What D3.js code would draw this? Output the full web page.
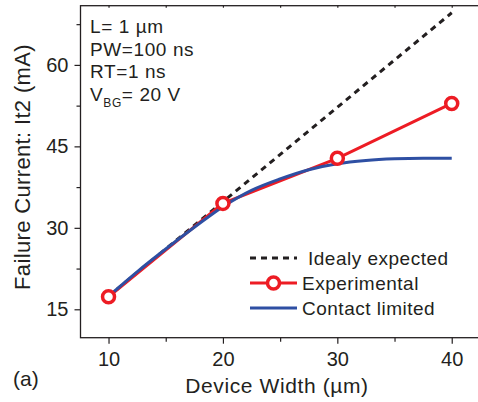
<!DOCTYPE html>
<html>
<head>
<meta charset="utf-8">
<script src="https://cdn.jsdelivr.net/npm/d3@7"></script>
<style>
  body { margin: 0; background: #fff; }
  text { font-family: "Liberation Sans", Arial, sans-serif; fill: #231f20; }
</style>
</head>
<body>
<div class="chart"></div>
<script>
// data
const widths = [10, 20, 30, 40];
const experimental = [17.3, 34.5, 42.8, 52.9];
const ideal = [17.4, 34.8, 52.2, 69.6];
const contactX = [10, 12.5, 15, 17.5, 20, 22.5, 25, 27.5, 30, 32.5, 35, 37.5, 40];
const contactY = [17.4, 21.9, 26.1, 30.1, 33.9, 36.9, 39.0, 40.7, 41.8, 42.4, 42.7, 42.8, 42.8];
const xTicks = [10, 20, 30, 40];
const yTicks = [15, 30, 45, 60];
const notes = ["L= 1 \u00b5m", "PW=100 ns", "RT=1 ns"];

const W = 478, H = 402;
const plotLeft = 80.5, plotBottom = 337.7, plotTop = 5.7;

const svg = d3.select(".chart").append("svg")
    .attr("width", W)
    .attr("height", H);

const x = d3.scaleLinear().domain([7.55, 42.5]).range([plotLeft, plotLeft + 34.95 * 11.44]);
const y = d3.scaleLinear().domain([9.77, 70.9]).range([plotBottom, plotTop]);

const red = "#ed1c24", blue = "#2e4fa3", black = "#231f20";

// frame
svg.append("rect")
    .attr("x", plotLeft).attr("y", plotTop)
    .attr("width", x.range()[1] - plotLeft).attr("height", plotBottom - plotTop)
    .attr("fill", "none").attr("stroke", black).attr("stroke-width", 1.3);

// bottom axis (major + minor)
svg.append("g").attr("transform", "translate(0," + plotBottom + ")")
    .call(d3.axisBottom(x).tickValues(xTicks).tickSize(6).tickSizeOuter(0).tickPadding(8).tickFormat(d3.format("d")));
svg.append("g").attr("transform", "translate(0," + plotBottom + ")")
    .call(d3.axisBottom(x).tickValues([15, 25, 35]).tickSize(4).tickFormat(""));

// left axis
svg.append("g").attr("transform", "translate(" + plotLeft + ",0)")
    .call(d3.axisLeft(y).tickValues(yTicks).tickSize(6).tickSizeOuter(0).tickPadding(6).tickFormat(d3.format("d")));
svg.append("g").attr("transform", "translate(" + plotLeft + ",0)")
    .call(d3.axisLeft(y).tickValues([22.5, 37.5, 52.5, 67.5]).tickSize(4).tickFormat(""));

// top axis small ticks
svg.append("g").attr("transform", "translate(0," + plotTop + ")")
    .call(d3.axisTop(x).tickValues([10, 15, 20, 25, 30, 35, 40]).tickSize(-2).tickFormat(""));

svg.selectAll(".domain").remove();
svg.selectAll(".tick line").attr("stroke", black).attr("stroke-width", 1.2);
svg.selectAll(".tick text").attr("font-size", 20).attr("fill", black)
    .style("font-family", "Liberation Sans, Arial, sans-serif");

// lines
const line = d3.line().x(d => x(d[0])).y(d => y(d[1]));

svg.append("path")
    .attr("d", line(widths.map((w, i) => [w, ideal[i]])))
    .attr("fill", "none").attr("stroke", black)
    .attr("stroke-width", 3).attr("stroke-dasharray", "6,5");

svg.append("path")
    .attr("d", line(widths.map((w, i) => [w, experimental[i]])))
    .attr("fill", "none").attr("stroke", red).attr("stroke-width", 3);

svg.append("path")
    .attr("d", d3.line().curve(d3.curveMonotoneX).x(d => x(d[0])).y(d => y(d[1]))(contactX.map((c, i) => [c, contactY[i]])))
    .attr("fill", "none").attr("stroke", blue).attr("stroke-width", 3);

svg.append("g").selectAll("circle")
    .data(widths.map((w, i) => [w, experimental[i]]))
    .join("circle")
    .attr("cx", d => x(d[0])).attr("cy", d => y(d[1]))
    .attr("r", 6).attr("fill", "#fff")
    .attr("stroke", red).attr("stroke-width", 3.5);

// annotations
svg.append("g").selectAll("text")
    .data(notes)
    .join("text")
    .attr("x", 90).attr("y", (d, i) => 33 + i * 22.5)
    .attr("font-size", 19).attr("letter-spacing", 0.6)
    .text(d => d);
const vbg = svg.append("text").attr("x", 90).attr("y", 100.5)
    .attr("font-size", 19).attr("letter-spacing", 0.6);
vbg.append("tspan").text("V");
vbg.append("tspan").attr("font-size", 12).attr("dy", 6).text("BG");
vbg.append("tspan").attr("dy", -6).text("= 20 V");

// legend
const legend = svg.append("g");
const rows = [
    {label: "Idealy expected", color: black, dash: "6,5", marker: false, tx: 308},
    {label: "Experimental", color: red, dash: null, marker: true, tx: 302},
    {label: "Contact limited", color: blue, dash: null, marker: false, tx: 302}
];
rows.forEach((r, i) => {
    const ly = 258 + i * 25;
    legend.append("line")
        .attr("x1", 250).attr("x2", 297).attr("y1", ly).attr("y2", ly)
        .attr("stroke", r.color).attr("stroke-width", 3)
        .attr("stroke-dasharray", r.dash);
    if (r.marker) {
        legend.append("circle").attr("cx", 273.5).attr("cy", ly).attr("r", 6)
            .attr("fill", "#fff").attr("stroke", red).attr("stroke-width", 3.5);
    }
    legend.append("text").attr("x", r.tx).attr("y", ly + 7)
        .attr("font-size", 19).attr("letter-spacing", 0.5).text(r.label);
});

// axis titles
svg.append("text")
    .attr("x", 277).attr("y", 393)
    .attr("text-anchor", "middle").attr("font-size", 21).attr("letter-spacing", 0.6)
    .text("Device Width (\u00b5m)");

svg.append("text")
    .attr("transform", "translate(30,167) rotate(-90)")
    .attr("text-anchor", "middle").attr("font-size", 22).attr("letter-spacing", 0.35)
    .text("Failure Current: It2 (mA)");

svg.append("text")
    .attr("x", 13).attr("y", 386).attr("font-size", 21)
    .text("(a)");
</script>
</body>
</html>
